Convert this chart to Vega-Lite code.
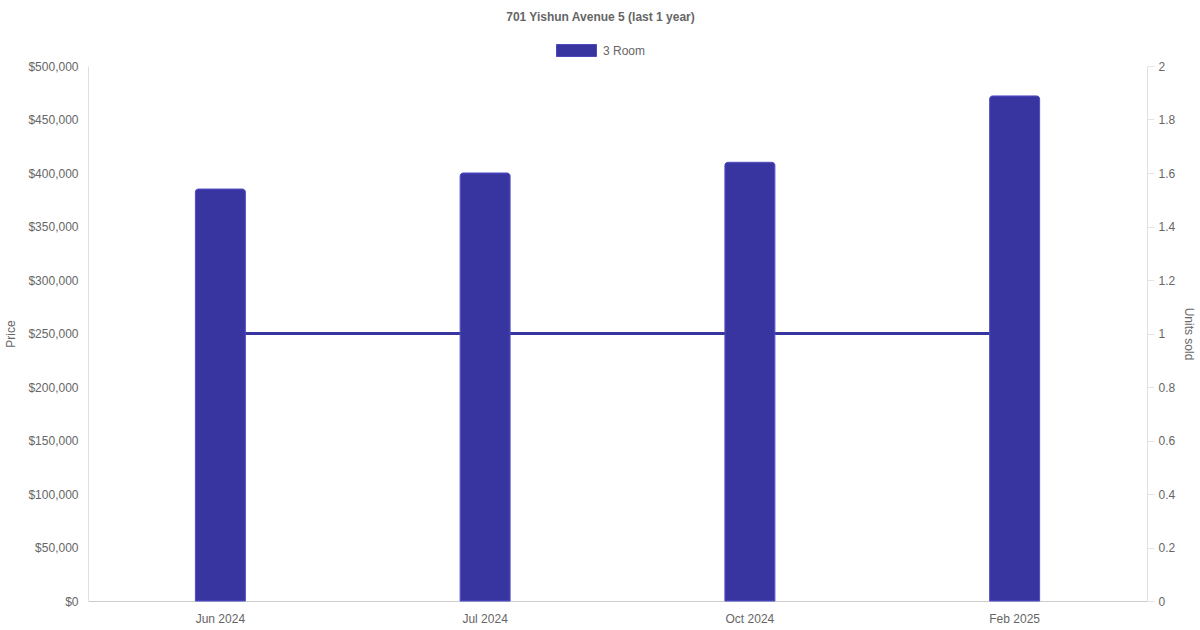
{
  "$schema": "https://vega.github.io/schema/vega-lite/v6.json",
  "width": 1059,
  "height": 535,
  "autosize": {"type": "none"},
  "padding": {"left": 88, "top": 66, "right": 53, "bottom": 29},
  "background": "white",
  "config": {
    "font": "Liberation Sans",
    "view": {"stroke": null},
    "axis": {
      "labelFont": "Liberation Sans",
      "labelFontSize": 12,
      "labelColor": "#666666",
      "titleFont": "Liberation Sans",
      "titleFontSize": 12,
      "titleFontWeight": "normal",
      "titleColor": "#666666",
      "gridColor": "#e5e5e5",
      "domainColor": "#e0e0e0",
      "tickColor": "#e5e5e5"
    }
  },
  "title": {
    "text": "701 Yishun Avenue 5 (last 1 year)",
    "font": "Liberation Sans",
    "fontSize": 12,
    "fontWeight": "bold",
    "color": "#666666",
    "anchor": "middle",
    "frame": "group",
    "dx": -17,
    "offset": 6
  },
  "data": {
    "values": [
      {"month": "Jun 2024", "price": 385000, "units": 1, "type": "3 Room"},
      {"month": "Jul 2024", "price": 400000, "units": 1, "type": "3 Room"},
      {"month": "Oct 2024", "price": 410000, "units": 1, "type": "3 Room"},
      {"month": "Feb 2025", "price": 472000, "units": 1, "type": "3 Room"}
    ]
  },
  "encoding": {
    "x": {
      "field": "month",
      "type": "nominal",
      "sort": null,
      "scale": {"paddingInner": 0, "paddingOuter": 0},
      "axis": {
        "title": null,
        "labelAngle": 0,
        "ticks": false,
        "labelPadding": 12,
        "domainColor": "#cccccc",
        "grid": false
      }
    }
  },
  "layer": [
    {
      "mark": {"type": "line", "color": "#3835a0", "strokeWidth": 3},
      "encoding": {
        "y": {
          "field": "units",
          "type": "quantitative",
          "scale": {"domain": [0, 2], "nice": false},
          "axis": {
            "orient": "right",
            "title": "Units sold",
            "values": [0, 0.2, 0.4, 0.6, 0.8, 1, 1.2, 1.4, 1.6, 1.8, 2],
            "format": ".1~f",
            "grid": false,
            "tickSize": 7,
            "labelPadding": 4,
            "titlePadding": 7
          }
        }
      }
    },
    {
      "mark": {
        "type": "bar",
        "size": 50,
        "stroke": "#4b48c0",
        "strokeWidth": 1,
        "cornerRadiusTopLeft": 3,
        "cornerRadiusTopRight": 3
      },
      "encoding": {
        "y": {
          "field": "price",
          "type": "quantitative",
          "scale": {"domain": [0, 500000], "nice": false},
          "axis": {
            "orient": "left",
            "title": "Price",
            "values": [0, 50000, 100000, 150000, 200000, 250000, 300000, 350000, 400000, 450000, 500000],
            "format": "$,d",
            "ticks": false,
            "labelPadding": 10,
            "titlePadding": 10
          }
        },
        "color": {
          "field": "type",
          "type": "nominal",
          "scale": {"domain": ["3 Room"], "range": ["#3835a0"]},
          "legend": {
            "title": null,
            "orient": "none",
            "legendX": 468,
            "legendY": -36,
            "padding": 0,
            "symbolType": "M-1,-0.3L1,-0.3L1,0.3L-1,0.3Z",
            "symbolSize": 1600,
            "symbolStrokeColor": "#4b48c0",
            "symbolStrokeWidth": 1,
            "labelFont": "Liberation Sans",
            "labelFontSize": 12,
            "labelColor": "#666666",
            "labelOffset": 6
          }
        }
      }
    }
  ],
  "resolve": {"scale": {"y": "independent"}}
}
